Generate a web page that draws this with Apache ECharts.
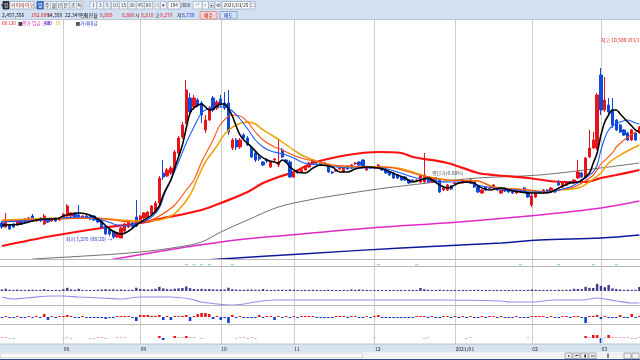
<!DOCTYPE html>
<html><head><meta charset="utf-8">
<script src="https://cdn.jsdelivr.net/npm/echarts@6/dist/echarts.min.js"></script>
<style>html,body{margin:0;padding:0;background:#fff;overflow:hidden}#c{width:640px;height:360px}</style>
</head><body><div id="c"></div>
<script>
// ---------------- DATA ----------------
const monthDays = [
  ['2020-07',[10,13,14,15,16,17,20,21,22,23,24,27,28,29,30,31]],
  ['2020-08',[3,4,5,6,7,10,11,12,13,14,18,19,20,21,24,25,26,27,28,31]],
  ['2020-09',[1,2,3,4,7,8,9,10,11,14,15,16,17,18,21,22,23,24,25,28,29]],
  ['2020-10',[5,6,7,8,12,13,14,15,16,19,20,21,22,23,26,27,28,29,30]],
  ['2020-11',[2,3,4,5,6,9,10,11,12,13,16,17,18,19,20,23,24,25,26,27,30]],
  ['2020-12',[1,2,3,4,7,8,9,10,11,14,15,16,17,18,21,22,23,24,28,29,30]],
  ['2021-01',[4,5,6,7,8,11,12,13,14,15,18,19,20,21,22,25,26,27,28,29]],
  ['2021-02',[1,2,3,4,5,8,9,10,15,16,17,18,19,22,23,24,25,26]],
  ['2021-03',[2,3,4,5,8,9,10,11,12,15,16]]
];
const monthTickLabels = {'2020-08':'08','2020-09':'09','2020-10':'10','2020-11':'11','2020-12':'12','2021-01':'2021/01','2021-02':'02','2021-03':'03'};

const opens  = [3874,3729,3802,3838,3802,3946,4019,3946,4127,3946,4055,3838,4019,3946,4055,3983,4055,4127,4127,4236,4164,4055,4127,4127,4127,4019,3946,3765,3621,3548,3367,3331,3584,3729,3874,4091,3874,4055,4091,4200,4272,4598,5685,5576,5685,5793,6409,6988,7495,8401,8075,8328,8220,7242,7604,8401,8039,8364,8220,8220,6590,6880,6626,7061,6952,6626,6409,6264,6083,6155,5902,6155,5974,6517,6155,6083,5540,5721,5721,5793,5902,6047,6083,6083,6047,5974,5721,5757,5829,5721,5938,5866,6010,6083,6155,5793,5902,5848,5866,5866,5793,5721,5685,5612,5540,5540,5431,5431,5413,5359,5359,5504,5359,5504,5431,5069,5069,5214,5304,5322,5322,5395,5322,5359,5178,4960,5178,5123,5141,5141,4960,5141,5069,5069,4960,5069,5141,4960,4526,4815,4960,4960,5069,4997,5069,5322,5178,5250,5359,5322,5504,5685,5504,6264,6590,6590,9233,7966,8147,7966,7604,7423,7242,7133,6880,7133,7133];
const closes = [3729,3910,3657,3729,3946,3838,3910,4055,3946,4019,3946,4127,3910,4019,3946,4055,4200,4490,4236,4091,4091,4127,4055,4019,3983,3910,3729,3476,3476,3367,3512,3693,3838,3910,3729,3765,4127,4236,4272,4490,4598,5504,5540,5793,5866,6445,6952,7423,8690,7894,8401,8147,7785,7604,8039,7966,8256,8147,8039,7169,6880,6626,6880,6952,6698,6264,6155,6191,5974,6119,6083,6191,6083,6264,6083,5540,5685,5685,5793,5902,6047,6155,6047,5974,5974,5721,5685,5793,5866,5902,5829,5974,6047,5974,5902,5902,5866,5866,5974,5793,5685,5612,5504,5504,5431,5431,5322,5413,5431,5612,5612,5359,5504,5359,4997,5141,5250,5105,5322,5304,5431,5377,5431,5178,4997,5069,5069,5141,5250,5069,5069,5033,4997,4960,5069,4997,4997,4815,4852,4960,4997,5069,4960,5141,4997,5250,5322,5359,5322,5431,5721,5540,6228,6590,6880,8509,7966,8328,7894,7423,7242,7169,7061,6880,7242,6880,7350];
const lows   = [3657,3693,3621,3693,3765,3802,3874,3910,3910,3910,3910,3802,3874,3910,3910,3946,4019,4091,4091,4055,4055,4019,4019,3983,3946,3874,3693,3439,3403,3295,3331,3331,3548,3693,3693,3729,3838,4019,4055,4164,4236,4562,5431,5540,5612,5757,6336,6916,7459,7785,7966,8075,7495,7133,7568,7894,7966,8075,7966,7061,6517,6517,6554,6880,6662,6228,6083,6119,5938,6047,5866,6119,5902,6228,6047,5504,5504,5648,5685,5757,5866,6010,6010,5938,5938,5685,5648,5721,5793,5685,5793,5829,5974,5938,5866,5757,5829,5829,5829,5757,5648,5576,5467,5467,5395,5395,5286,5395,5395,5322,5322,5322,5322,5322,4960,5033,5033,5069,5286,5286,5286,5359,5286,5141,4960,4924,5033,5105,5105,5033,4924,4997,4960,4924,4924,4960,4960,4779,4453,4779,4924,4924,4924,4960,4960,5214,5141,5214,5286,5286,5467,5504,5467,6228,6554,6517,7785,7894,7821,7314,7206,7133,7024,6843,6843,6843,7097];
const highs  = [3946,4236,3838,3874,3983,4019,4055,4091,4200,4055,4091,4200,4055,4055,4091,4091,4236,4562,4272,4272,4526,4164,4164,4164,4164,4055,3983,3802,3657,3584,3548,3729,3874,3946,3910,4707,4164,4272,4308,4526,4671,5576,6155,5866,5938,6517,7024,7532,9052,8582,8509,8401,8292,7785,8111,8473,8328,8509,8618,8690,6952,6952,6952,7133,7024,6662,6445,6336,6119,6228,6119,6228,6880,6590,6191,6155,5721,5757,5829,5938,6083,6191,6119,6119,6083,6010,5757,5829,5902,5938,5974,6010,6083,6119,6191,5938,5938,5902,6010,5902,5829,5757,5721,5648,5576,5576,5467,5467,5467,5648,6409,5540,5540,5540,5467,5178,5286,5250,5359,5359,5467,5431,5467,5395,5214,5105,5214,5178,5286,5178,5105,5178,5105,5105,5105,5105,5178,4997,4924,4997,5033,5105,5105,5178,5105,5431,5359,5395,5395,5467,6155,5721,6264,7242,7169,8582,9487,9161,8401,8401,7640,7459,7278,7169,7278,7169,7387];

// moving averages: [bar index, price]
const ma5   = [[0,3802],[5,3838],[8,3946],[11,4019],[14,4019],[16,4127],[18,4200],[20,4236],[22,4200],[24,4091],[26,3910],[28,3657],[30,3512],[31,3476],[33,3584],[35,3802],[37,3983],[39,4164],[41,4490],[42,4888],[44,5431],[45,5866],[47,6698],[48,7314],[49,7858],[50,8039],[52,8183],[53,8075],[54,7966],[55,8003],[56,8111],[57,8183],[58,8183],[59,8003],[60,7749],[61,7387],[62,7061],[63,6880],[65,6626],[67,6336],[69,6155],[71,6083],[72,6047],[73,6155],[74,6083],[75,5902],[77,5721],[79,5685],[81,5866],[83,5974],[86,5902],[88,5721],[90,5721],[92,5829],[95,5902],[98,5866],[100,5793],[103,5612],[105,5504],[107,5359],[109,5431],[111,5504],[112,5431],[114,5250],[116,5141],[117,5178],[119,5322],[121,5359],[123,5322],[124,5214],[127,5069],[130,5141],[132,5069],[135,4997],[138,4960],[140,4960],[143,4997],[145,5141],[148,5322],[150,5359],[151,5431],[153,5685],[154,6047],[155,6409],[156,7061],[157,7532],[158,7785],[159,7966],[160,7966],[161,7821],[162,7676],[163,7532],[164,7387],[165,7242],[166,7169]];
const ma10  = [[0,3910],[5,3946],[10,3983],[16,4055],[20,4091],[24,4055],[27,3946],[30,3802],[33,3765],[36,3874],[39,4091],[41,4417],[43,5178],[44,5431],[46,6083],[48,6771],[50,7350],[52,7858],[54,8039],[56,8075],[58,8075],[60,7930],[62,7640],[64,7278],[66,6880],[68,6626],[70,6481],[72,6409],[74,6336],[76,6228],[78,6083],[80,6010],[83,5974],[87,5902],[91,5866],[95,5866],[99,5866],[103,5721],[107,5540],[111,5431],[115,5359],[120,5359],[125,5214],[130,5105],[134,5069],[138,4997],[142,4997],[145,5069],[148,5178],[150,5322],[152,5504],[154,5721],[155,5974],[156,6517],[157,6952],[158,7242],[159,7387],[161,7532],[163,7604],[165,7495],[166,7459]];
const ma20  = [[0,3946],[8,3983],[16,4019],[24,4055],[29,3983],[34,3910],[38,3946],[41,4127],[45,4526],[48,5069],[50,5431],[52,6083],[55,6880],[57,7459],[60,7785],[62,7749],[64,7532],[66,7169],[68,6880],[71,6626],[73,6517],[77,6264],[80,6155],[83,6083],[86,5974],[90,5938],[97,5902],[102,5866],[106,5721],[110,5576],[116,5431],[124,5395],[128,5178],[137,5069],[142,4997],[145,5069],[149,5178],[151,5322],[154,5612],[156,6010],[159,6409],[160,6626],[163,6988],[166,7242]];
const ma40  = [[0,3983],[8,4019],[16,4055],[23,4055],[31,3983],[36,3946],[41,3983],[44,4127],[46,4345],[49,4888],[51,5504],[53,6083],[56,6662],[58,7097],[61,7423],[64,7532],[66,7459],[68,7242],[71,6988],[73,6807],[76,6517],[78,6336],[81,6155],[85,5974],[90,5902],[98,5902],[103,5866],[107,5721],[111,5540],[116,5431],[124,5395],[128,5178],[137,5069],[141,4997],[145,5069],[150,5141],[153,5359],[156,5685],[158,6047],[161,6336],[166,6698]];
const ma60  = [[0,3041],[13,3403],[26,3693],[36,3874],[41,4019],[52,4345],[57,4598],[64,4997],[68,5322],[72,5540],[76,5721],[81,6047],[90,6336],[98,6445],[104,6409],[107,6264],[116,6047],[124,5685],[128,5612],[137,5504],[146,5359],[152,5359],[156,5504],[160,5612],[166,5793]];
const ma120 = [[8,2571],[26,2716],[36,2824],[46,3005],[52,3186],[57,3548],[64,3983],[72,4453],[80,4707],[86,4852],[98,5105],[111,5322],[124,5504],[140,5612],[156,5866],[166,6047]];
const ma240 = [[28,2535],[57,3186],[78,3476],[96,3693],[119,3910],[140,4164],[156,4417],[166,4671]];
const ma480 = [[53,2535],[78,2752],[104,2969],[130,3150],[140,3258],[156,3331],[166,3439]];

const volumes = [150,220,120,110,130,110,100,120,130,100,110,180,120,100,110,100,
 180,320,150,120,220,110,100,100,110,120,150,180,140,160,130,150,120,110,120,330,
 200,180,150,160,220,420,260,180,160,230,260,300,450,280,200,170,220,180,200,170,150,
 160,150,330,180,140,130,120,140,150,130,120,200,110,100,110,120,130,110,150,
 120,100,100,110,110,120,100,100,100,120,110,100,100,110,100,160,110,150,120,100,100,
 100,110,100,100,110,100,100,110,100,110,100,100,300,180,120,110,100,130,110,100,100,
 100,100,110,100,100,110,120,100,110,100,100,100,110,100,100,100,110,100,100,120,
 150,120,100,110,100,110,100,120,110,120,130,220,200,180,420,320,300,720,
 520,380,600,260,200,150,120,130,110,120,400];
const indicatorLine = [[0,9],[3,7],[6,8],[13,10],[16,10],[20,9],[26,8],[31,7],[36,9],[44,9],[49,7],[52,4],[56,2],[60,1],[63,2],[66,4],[71,6],[78,6],[86,6],[98,6],[114,6],[130,5],[132,4],[138,4],[144,6],[151,6],[155,8],[157,7],[160,5],[164,3],[166,3]];
const histC = [-1,1,-1,-1,1,-1,-1,1,-1,1,-1,3,-3,1,-1,1,1,2,1,-1,-1,1,-1,-1,-1,-1,-1,-2,-1,-1,1,1,1,1,-1,-4,2,2,2,1,1,2,-3,1,-3,1,1,1,2,-4,1,3,4,4,3,-2,1,-3,-1,-6,2,-1,1,-1,-1,-1,-1,2,-1,1,1,-3,1,-1,1,-1,1,-1,1,1,1,1,-1,-1,-1,-1,-1,1,1,1,-1,1,1,-1,-1,1,-1,1,2,-1,-1,-1,-1,-1,-1,-1,-1,-1,1,1,1,-1,1,-1,-1,1,1,-1,1,-1,1,-1,1,-1,-1,1,-1,1,1,-1,1,-1,-1,-1,1,-1,-1,-1,1,1,1,1,-1,1,-1,-1,1,1,-1,1,1,-1,-6,1,1,2,-2,1,-1,-1,-1,2,-1,-1,3,-1,1];
const histD = [[0,1],[1,1],[2,-1],[3,-1],[16,-1],[17,1],[18,-1],[23,-1],[24,-1],[25,1],[26,1],[27,-1],[30,1],[31,1],[32,1],[41,2],[42,-2],[45,2],[46,1],[47,1],[48,2],[49,1],[50,1],[52,-1],[61,-1],[62,1],[63,1],[64,-1],[65,1],[66,-1],[97,1],[110,-1],[111,1],[121,-1],[122,1],[137,1],[152,2],[153,1],[154,3],[155,3],[156,-5],[157,1],[158,3],[159,1],[160,1],[161,1],[162,1],[163,1],[164,-1],[165,-1],[166,1]];
const signalBars = [48,50,52,54,60,98,108,135,145,154,160];

// ---------------- BUILD ----------------
const FONT = '"Noto Sans CJK KR","Noto Sans",sans-serif';
const categories = [], monthStart = {};
monthDays.forEach(([ym, days]) => days.forEach((d, k) => {
  if (k === 0) monthStart[categories.length] = ym;
  categories.push(ym + '-' + String(d).padStart(2, '0'));
}));
const candles = opens.map((o, i) => [o, closes[i], lows[i], highs[i]]);
const isMonthLine = (i) => monthStart[i] !== undefined && i > 0;

const UP = '#e8141c', DN = '#1048d8';
const grids = [
  {top:20, height:239}, {top:259, height:7.5}, {top:267, height:24},
  {top:291, height:15}, {top:306, height:19}, {top:325, height:19}
].map(g => Object.assign({left:1.92, right:0.64, containLabel:false}, g));

const xAxes = grids.map((g, k) => ({
  type:'category', gridIndex:k, data:categories, boundaryGap:false, z:k===5?30:0,
  axisLine:{show:false}, axisTick:{show:false},
  axisLabel: k === 5 ? {show:true, interval:(i)=>isMonthLine(i), formatter:(v)=>monthTickLabels[v.slice(0,7)]||'',
     fontSize:5, fontFamily:FONT, color:'#222', align:'left', margin:2.5, padding:[0,0,0,0.5], hideOverlap:false} : {show:false},
  splitLine:{show:true, interval:(i)=>isMonthLine(i), lineStyle:{color:'#cdcdcd', width:1}}
}));
const yRanges = [[2570,11225],[0,1],[0,2400],[0,15],[-8,11],[-6,13]];
const yAxes = yRanges.map((r, k) => ({type:'value', gridIndex:k, min:r[0], max:r[1], show:false}));

function maLine(data, color, width, z) {
  return {type:'line', xAxisIndex:0, yAxisIndex:0, data, smooth:0.35, symbol:'none', silent:true,
    lineStyle:{color, width}, z};
}
const series = [
  maLine(ma480, '#0a1a9a', 1.4, 2),
  maLine(ma240, '#e02ac8', 1.4, 2),
  maLine(ma120, '#707070', 1, 2),
  maLine(ma60,  '#ff1010', 2.2, 2),
  {type:'candlestick', xAxisIndex:0, yAxisIndex:0, data:candles, barWidth:2.8, clip:false, z:3,
   itemStyle:{color:UP, color0:DN, borderColor:UP, borderColor0:DN, borderWidth:1},
   markPoint:{symbol:'circle', symbolSize:0, silent:true, data:[
     {coord:[29,3295], label:{show:true, position:'left', distance:1, formatter:'최저 3,295 (08/20) →', color:'#2a3ad0', fontSize:5, fontFamily:FONT}},
     {coord:[156,10500], label:{show:true, position:'right', distance:0, formatter:'최고 10,500 (03/15)', color:'#e02020', fontSize:5, fontFamily:FONT}},
     {coord:[112,5685], label:{show:true, position:'right', distance:0, formatter:'평단가(0.00%)', color:'#555', fontSize:5, fontFamily:FONT}}
   ]}},
  maLine(ma40, '#f0a000', 1.5, 4),
  maLine(ma20, '#ff5010', 1.1, 4),
  maLine(ma10, '#1a5cff', 1.1, 4),
  maLine(ma5,  '#000000', 1.6, 5),
  {type:'scatter', xAxisIndex:1, yAxisIndex:1, data:signalBars.map(i=>[i,0.25]), symbol:'rect', symbolSize:[3,1.5],
   itemStyle:{color:'#7fd3b0'}, silent:true},
  {type:'bar', xAxisIndex:2, yAxisIndex:2, data:volumes, barWidth:2.4, itemStyle:{color:'#3d3d8f'}, silent:true},
  {type:'line', xAxisIndex:3, yAxisIndex:3, data:indicatorLine, smooth:0.3, symbol:'none', lineStyle:{color:'#9a8ce6', width:1.2}, silent:true},
  {type:'bar', xAxisIndex:4, yAxisIndex:4, data:histC, barWidth:2.6, silent:true,
   itemStyle:{color:(p)=> p.value >= 0 ? '#e81818' : '#1040d0'}},
  {type:'bar', xAxisIndex:5, yAxisIndex:5, data:histD, barWidth:2.6, silent:true,
   itemStyle:{color:(p)=>{const v=p.value[1]; if (Math.abs(v)<=1) return v>0?'#f3b0b0':'#b0c4f0'; return v>0?'#e81818':'#1040d0';}}}
];

// --------------- chrome (toolbar, separators) ---------------
const G = [];
function box(x,y,w,h,fill,stroke,z){G.push({type:'rect', shape:{x,y,width:w,height:h}, style:{fill, stroke:stroke||null, lineWidth:stroke?0.8:0}, z:(z===undefined?10:z), silent:true});}
function txt(x,y,text,color,size,align){G.push({type:'text', x, y, style:{text, fill:color||'#222', font:(size||5)+'px '+FONT, align:align||'left', verticalAlign:'middle', textAlign:align||'left', textVerticalAlign:'middle'}, z:11, silent:true});}
function hline(y,x1,x2,color,w,z){G.push({type:'line', shape:{x1,y1:y,x2,y2:y}, style:{stroke:color, lineWidth:w||1}, z:(z===undefined?9:z), silent:true});}

// toolbar
box(0,0,640,19.5,'#d3e0f1');
hline(19.5,0,640,'#a8b0b8',1);
txt(0.5,5.5,'▾','#334',4.5);
box(3,1.5,6,7.5,'#2c3444','#223'); txt(6,5.3,'집','#fff',4.5,'center');
box(10,1.5,24,7.5,'#ffffff','#9aabc4'); txt(11,5.3,'커이바이오','#8a1a1a',5);
txt(35,6,',','#334',4.5);
box(37,1.5,6.5,7.5,'#3a6fd0','#2a56a8'); txt(40.2,5.3,'일','#fff',4.8,'center');
[['주',44],['월',50.5],['년',56.5],['분',62.5],['초',70],['틱',76.5]].forEach(([t,x])=>{box(x,1.5,6.5,7.5,'#f1f5fb','#a8b8cc'); txt(x+3.2,5.3,t,'#222',4.8,'center');});
[['1',90,6.5],['3',97,6.5],['5',104,6.5],['10',111.5,7.5],['15',119.5,8],['30',128,8],['45',136.5,7.5],['60',144.5,8]].forEach(([t,x,w])=>{box(x,1.5,w,7.5,'#f1f5fb','#a8b8cc'); txt(x+w/2,5.3,t,'#333',4.8,'center');});
box(153,1.5,7,7.5,'#e8edf4','#b8c4d4'); txt(156.5,5.3,'15','#999',4.8,'center');
box(160.5,1.5,6,7.5,'#f1f5fb','#a8b8cc'); txt(163.5,5.3,'▾','#333',4.5,'center');
box(168,1.5,12,7.5,'#ffffff','#9aabc4'); txt(174,5.3,'194','#111',4.8,'center');
txt(180.5,5.5,'/600','#333',4.8);
box(193,1.5,9,7.5,'#f1f5fb','#a8b8cc'); txt(197.5,5.3,'⁺¹','#333',4.8,'center');
box(202.5,1.5,6,7.5,'#f1f5fb','#a8b8cc'); txt(205.5,5.3,'ᵃ','#333',4.8,'center');
box(208.5,1.5,6,7.5,'#f1f5fb','#a8b8cc'); txt(211.5,5.3,'▣','#333',4.5,'center');
box(215,1.5,6,7.5,'#f1f5fb','#a8b8cc'); txt(218,5.3,'⚙','#333',4.5,'center');
box(222,1.5,28,7.5,'#ffffff','#9aabc4'); txt(236,5.3,'2021/03/25','#111',4.8,'center');
box(250.5,1.5,5,7.5,'#f1f5fb','#a8b8cc'); txt(253,5.3,'□','#333',4,'center');
// row 2
[['2,457,356',2,'#111'],['192.08%',31,'#e02020'],['14,350',47,'#111'],['22.34백만',65,'#111'],['회전율',84,'#111'],
 ['8,880',100,'#e02020'],['8,860',122,'#e02020'],['시',135,'#111'],['8,810',141,'#e02020'],['고',155,'#111'],
 ['9,270',160,'#e02020'],['저',177,'#111'],['8,730',182,'#1030d0']].forEach(([t,x,c])=>txt(x,15.3,t,c,5));
box(200,11.5,17,7.5,'#f7d4d4','#d08888'); txt(208.5,15.3,'매수','#b00000',4.8,'center');
box(220,11.5,17,7.5,'#d6e2f7','#8898d0'); txt(228.5,15.3,'매도','#0030b0',4.8,'center');

// legend row
[['60',2,'#e01010'],['120',8,'#e01010'],['■',18,'#444'],['평가 입금 고려',22,'#e02ac8'],['480',44,'#1020b0'],['15',55,'#f0a000'],['■',75.5,'#555'],['거래대금',80,'#2030d0']].forEach(([t,x,c])=>txt(x,23.5,t,c,4.8));

// panel separators
hline(259.5,0,640,'#b8b8b8',1);
hline(266.5,0,640,'#b8b8b8',1);
hline(305.5,0,640,'#b8b8b8',1);
hline(324.5,0,640,'#b8b8b8',1);
// axis bar + scroll area
box(0,344,640,8.5,'#d7e3f1',null,0); hline(344,0,640,'#a8b4c4',0.8,1);
box(0,352.5,640,6.5,'#f3f3f3'); box(0.5,353,362,4.8,'#fbfbfb','#d0d0d0');
[[565,'▸'],[573,'⏮'],[581,'▮'],[589,'⏭']].forEach(([x,t])=>{box(x,353,7,5.5,'#f1f1f1','#999'); txt(x+3.5,355.8,t,'#222',4,'center');});
hline(355.8,598,622,'#888',0.8); box(607,353.5,2,4.5,'#888');
box(624,353,7,5.5,'#f1f1f1','#999'); box(632,353,7,5.5,'#f1f1f1','#999');
hline(359.5,0,640,'#2b4f8a',1.5);

const option = {
  animation:false, backgroundColor:'#ffffff',
  grid:grids, xAxis:xAxes, yAxis:yAxes, series, graphic:G
};
const chart = echarts.init(document.getElementById('c'));
chart.setOption(option);
</script></body></html>
